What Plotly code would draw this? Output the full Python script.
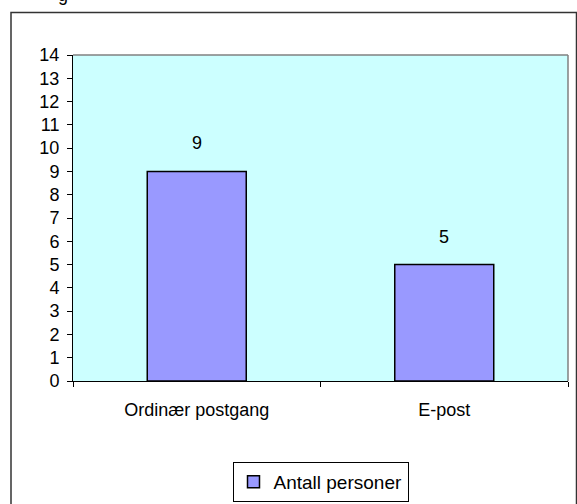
import plotly.graph_objects as go

categories = ["Ordinær postgang", "E-post"]
values = [9, 5]
series_name = "Antall personer"
y_tick_values = list(range(0, 15))

W, H = 577, 504
L, R, T, B = 73, 9, 55, 123
pw = W - L - R
ph = H - T - B


def px_x(p):
    return (p - L) / pw


def px_y(p):
    return (H - B - p) / ph


FONT = "Liberation Sans, Arial, sans-serif"
FS = 18

fig = go.Figure()
fig.add_trace(go.Bar(
    x=categories,
    y=values,
    name=series_name,
    showlegend=True,
    marker=dict(color="#9999FF", line=dict(color="#000000", width=1.5)),
))

for c, v in zip(categories, values):
    fig.add_annotation(x=c, y=v, text=str(v), showarrow=False,
                       yanchor="bottom", yshift=16,
                       font=dict(family=FONT, size=FS, color="black"))

# cut-off title descender at top
fig.add_annotation(xref="paper", yref="paper", x=px_x(63), y=px_y(7),
                   text="g", showarrow=False, xanchor="center", yanchor="bottom",
                   font=dict(family=FONT, size=FS, color="black"))

shapes = [
    # outer chart frame
    dict(type="rect", xref="paper", yref="paper",
         x0=px_x(11), x1=px_x(576.5), y0=px_y(515), y1=px_y(12.5),
         line=dict(color="#333333", width=1.5), fillcolor="rgba(0,0,0,0)", layer="below"),
    # plot area top and right border (gray)
    dict(type="line", xref="paper", yref="paper", x0=0, x1=1, y0=1, y1=1,
         line=dict(color="#808080", width=1.5)),
    dict(type="line", xref="paper", yref="paper", x0=1, x1=1, y0=0, y1=1,
         line=dict(color="#808080", width=1.5)),
]

fig.update_layout(
    width=W, height=H,
    margin=dict(l=L, r=R, t=T, b=B, pad=0, autoexpand=False),
    paper_bgcolor="white",
    plot_bgcolor="#CCFFFF",
    bargap=0.6,
    font=dict(family=FONT, size=FS, color="black"),
    shapes=shapes,
    showlegend=True,
    legend=dict(
        orientation="h",
        x=0.5, xanchor="center",
        y=px_y(462), yanchor="top",
        bordercolor="black", borderwidth=1,
        bgcolor="white",
        itemwidth=30,
        font=dict(family=FONT, size=FS + 1, color="black"),
    ),
    xaxis=dict(
        showgrid=False, zeroline=False,
        showline=True, linecolor="black", linewidth=1,
        ticks="outside", tickson="boundaries", ticklen=5, tickcolor="black",
        ticklabelstandoff=12,
    ),
    yaxis=dict(
        range=[0, 14], tickmode="array", tickvals=y_tick_values,
        showgrid=False, zeroline=False,
        showline=True, linecolor="black", linewidth=1,
        ticks="outside", ticklen=5, tickcolor="black",
        ticklabelstandoff=4,
    ),
)

fig.write_html("out.html", config={"displayModeBar": False},
               post_script="document.body.style.margin='0';")
